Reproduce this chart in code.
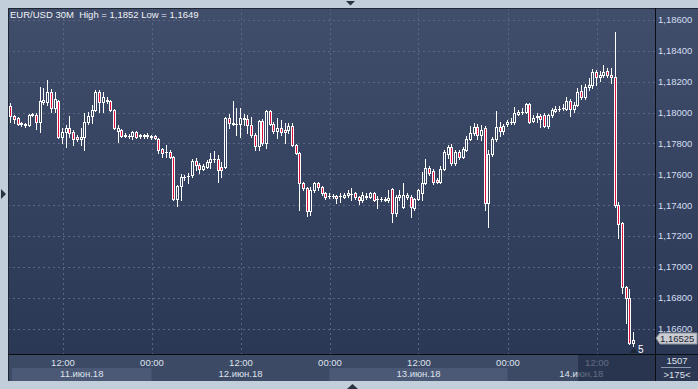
<!DOCTYPE html>
<html>
<head>
<meta charset="utf-8">
<script src="https://cdn.jsdelivr.net/npm/d3@7"></script>
<style>
    body { margin: 0; background: #c3cedb; }
    svg { display: block; font-family: "Liberation Sans", Arial, sans-serif; }
</style>
</head>
<body>
<div id="chart"></div>
<script>
// EUR/USD 30M bars, 11.06.2018 04:30 .. 14.06.2018 17:00 (UTC)
var barOpen = [
    1.17972, 1.18043, 1.17978, 1.17965, 1.17933, 1.17926, 1.17920, 1.17985, 1.17985, 1.17939,
    1.18069, 1.18069, 1.18134, 1.18030, 1.18076, 1.17842, 1.17875, 1.17901, 1.17875, 1.17842,
    1.17829, 1.17842, 1.17939, 1.17978, 1.18017, 1.18134, 1.18069, 1.18082, 1.18076, 1.18017,
    1.17881, 1.17888, 1.17855, 1.17849, 1.17849, 1.17875, 1.17849, 1.17852, 1.17849, 1.17846,
    1.17849, 1.17829, 1.17765, 1.17745, 1.17745, 1.17713, 1.17441, 1.17525, 1.17583, 1.17590,
    1.17596, 1.17687, 1.17661, 1.17635, 1.17648, 1.17680, 1.17700, 1.17700, 1.17648, 1.17648,
    1.17965, 1.17933, 1.17926, 1.17926, 1.17959, 1.17959, 1.17920, 1.17855, 1.17784, 1.17946,
    1.17804, 1.18011, 1.17926, 1.17881, 1.17901, 1.17888, 1.17888, 1.17913, 1.17791, 1.17739,
    1.17544, 1.17512, 1.17363, 1.17499, 1.17544, 1.17518, 1.17479, 1.17460, 1.17457, 1.17460,
    1.17457, 1.17453, 1.17466, 1.17473, 1.17479, 1.17453, 1.17434, 1.17453, 1.17453, 1.17479,
    1.17441, 1.17438, 1.17441, 1.17434, 1.17505, 1.17350, 1.17453, 1.17389, 1.17453, 1.17453,
    1.17382, 1.17441, 1.17479, 1.17544, 1.17641, 1.17622, 1.17564, 1.17551, 1.17635, 1.17732,
    1.17778, 1.17674, 1.17745, 1.17713, 1.17758, 1.17829, 1.17868, 1.17907, 1.17855, 1.17901,
    1.17415, 1.17732, 1.17829, 1.17907, 1.17881, 1.17926, 1.17939, 1.17939, 1.17991, 1.18004,
    1.18004, 1.18056, 1.17946, 1.17972, 1.17978, 1.17985, 1.17913, 1.17985, 1.18011, 1.18024,
    1.18030, 1.18024, 1.18076, 1.18024, 1.18050, 1.18140, 1.18102, 1.18166, 1.18179, 1.18263,
    1.18231, 1.18244, 1.18270, 1.18244, 1.18231, 1.17402, 1.17285, 1.16870, 1.16799, 1.16510
];
var barHigh = [
    1.18056, 1.18063, 1.17985, 1.17972, 1.17939, 1.17933, 1.17991, 1.17998, 1.17998, 1.18166,
    1.18160, 1.18212, 1.18153, 1.18134, 1.18082, 1.17901, 1.17920, 1.17978, 1.17888, 1.17855,
    1.17901, 1.17998, 1.18004, 1.18050, 1.18147, 1.18147, 1.18134, 1.18102, 1.18082, 1.18024,
    1.17920, 1.17894, 1.17868, 1.17862, 1.17881, 1.17881, 1.17862, 1.17862, 1.17868, 1.17855,
    1.17855, 1.17836, 1.17771, 1.17791, 1.17758, 1.17719, 1.17531, 1.17603, 1.17596, 1.17609,
    1.17700, 1.17706, 1.17674, 1.17667, 1.17693, 1.17739, 1.17752, 1.17726, 1.17680, 1.17972,
    1.17991, 1.18076, 1.18030, 1.18030, 1.17991, 1.17985, 1.17972, 1.17868, 1.17952, 1.17959,
    1.18017, 1.18017, 1.17939, 1.17965, 1.17952, 1.17933, 1.17933, 1.17933, 1.17797, 1.17745,
    1.17551, 1.17518, 1.17518, 1.17551, 1.17551, 1.17525, 1.17486, 1.17479, 1.17473, 1.17466,
    1.17479, 1.17479, 1.17499, 1.17512, 1.17486, 1.17460, 1.17486, 1.17479, 1.17486, 1.17486,
    1.17460, 1.17453, 1.17453, 1.17499, 1.17512, 1.17466, 1.17499, 1.17544, 1.17479, 1.17466,
    1.17447, 1.17505, 1.17616, 1.17700, 1.17654, 1.17635, 1.17577, 1.17654, 1.17758, 1.17791,
    1.17797, 1.17758, 1.17758, 1.17778, 1.17849, 1.17913, 1.17933, 1.17926, 1.17920, 1.17913,
    1.17758, 1.17842, 1.18011, 1.17939, 1.17926, 1.17952, 1.17965, 1.18037, 1.18017, 1.18030,
    1.18063, 1.18063, 1.17985, 1.17998, 1.17991, 1.17998, 1.17991, 1.18030, 1.18043, 1.18043,
    1.18056, 1.18102, 1.18089, 1.18069, 1.18160, 1.18179, 1.18186, 1.18225, 1.18283, 1.18276,
    1.18270, 1.18309, 1.18289, 1.18289, 1.18520, 1.17421, 1.17291, 1.16877, 1.16857, 1.16578
];
var barLow = [
    1.17965, 1.17939, 1.17933, 1.17920, 1.17913, 1.17907, 1.17913, 1.17978, 1.17894, 1.17875,
    1.18056, 1.18050, 1.18004, 1.18004, 1.17836, 1.17804, 1.17778, 1.17842, 1.17791, 1.17816,
    1.17791, 1.17758, 1.17926, 1.17933, 1.18011, 1.18004, 1.18004, 1.18063, 1.18011, 1.17894,
    1.17810, 1.17842, 1.17842, 1.17836, 1.17829, 1.17836, 1.17836, 1.17836, 1.17836, 1.17829,
    1.17829, 1.17739, 1.17713, 1.17713, 1.17706, 1.17434, 1.17395, 1.17434, 1.17564, 1.17544,
    1.17583, 1.17628, 1.17609, 1.17628, 1.17641, 1.17641, 1.17680, 1.17551, 1.17583, 1.17641,
    1.17901, 1.17920, 1.17855, 1.17842, 1.17920, 1.17868, 1.17842, 1.17758, 1.17758, 1.17791,
    1.17771, 1.17920, 1.17868, 1.17836, 1.17855, 1.17804, 1.17868, 1.17784, 1.17732, 1.17369,
    1.17499, 1.17330, 1.17337, 1.17486, 1.17499, 1.17466, 1.17441, 1.17447, 1.17447, 1.17415,
    1.17421, 1.17447, 1.17453, 1.17434, 1.17441, 1.17408, 1.17421, 1.17441, 1.17447, 1.17428,
    1.17382, 1.17428, 1.17428, 1.17421, 1.17291, 1.17330, 1.17434, 1.17382, 1.17441, 1.17324,
    1.17369, 1.17434, 1.17434, 1.17538, 1.17596, 1.17538, 1.17544, 1.17544, 1.17628, 1.17706,
    1.17661, 1.17661, 1.17700, 1.17706, 1.17752, 1.17823, 1.17855, 1.17829, 1.17823, 1.17369,
    1.17259, 1.17719, 1.17816, 1.17849, 1.17862, 1.17913, 1.17926, 1.17926, 1.17985, 1.17991,
    1.17998, 1.17933, 1.17939, 1.17939, 1.17907, 1.17907, 1.17901, 1.17972, 1.18004, 1.18011,
    1.18017, 1.18017, 1.17978, 1.18004, 1.18043, 1.18089, 1.18089, 1.18147, 1.18160, 1.18179,
    1.18205, 1.18231, 1.18231, 1.18192, 1.17389, 1.17188, 1.16831, 1.16636, 1.16501, 1.16490
];
var barClose = [
    1.18043, 1.17978, 1.17959, 1.17926, 1.17926, 1.17920, 1.17985, 1.17991, 1.17939, 1.18076,
    1.18082, 1.18134, 1.18030, 1.18089, 1.17842, 1.17875, 1.17901, 1.17868, 1.17829, 1.17829,
    1.17842, 1.17939, 1.17978, 1.18017, 1.18134, 1.18069, 1.18102, 1.18076, 1.18017, 1.17901,
    1.17901, 1.17849, 1.17849, 1.17846, 1.17875, 1.17842, 1.17852, 1.17849, 1.17852, 1.17842,
    1.17836, 1.17758, 1.17739, 1.17742, 1.17713, 1.17441, 1.17525, 1.17583, 1.17580, 1.17587,
    1.17687, 1.17661, 1.17635, 1.17654, 1.17680, 1.17700, 1.17697, 1.17628, 1.17628, 1.17965,
    1.17933, 1.17926, 1.17923, 1.17965, 1.17962, 1.17920, 1.17855, 1.17784, 1.17946, 1.17804,
    1.18011, 1.17926, 1.17881, 1.17901, 1.17875, 1.17875, 1.17913, 1.17791, 1.17739, 1.17544,
    1.17512, 1.17363, 1.17499, 1.17544, 1.17518, 1.17479, 1.17453, 1.17457, 1.17460, 1.17447,
    1.17460, 1.17466, 1.17479, 1.17470, 1.17453, 1.17434, 1.17466, 1.17457, 1.17479, 1.17434,
    1.17438, 1.17441, 1.17434, 1.17447, 1.17350, 1.17453, 1.17466, 1.17466, 1.17466, 1.17389,
    1.17441, 1.17499, 1.17544, 1.17641, 1.17609, 1.17551, 1.17551, 1.17635, 1.17745, 1.17778,
    1.17674, 1.17745, 1.17713, 1.17765, 1.17829, 1.17868, 1.17907, 1.17855, 1.17888, 1.17415,
    1.17732, 1.17829, 1.17907, 1.17881, 1.17913, 1.17939, 1.17942, 1.17998, 1.18004, 1.18001,
    1.18056, 1.17939, 1.17965, 1.17975, 1.17959, 1.17913, 1.17985, 1.18017, 1.18024, 1.18021,
    1.18033, 1.18076, 1.18024, 1.18050, 1.18134, 1.18102, 1.18166, 1.18179, 1.18263, 1.18231,
    1.18244, 1.18263, 1.18244, 1.18231, 1.17402, 1.17278, 1.16870, 1.16799, 1.16510, 1.16525
];

var firstBarTime = Date.UTC(2018, 5, 11, 4, 30);
var barMinutes = 30;
var priceTicks = [1.166, 1.168, 1.170, 1.172, 1.174, 1.176, 1.178, 1.180, 1.182, 1.184, 1.186];
var gridTimes = [
    Date.UTC(2018, 5, 11, 12), Date.UTC(2018, 5, 12, 0), Date.UTC(2018, 5, 12, 12),
    Date.UTC(2018, 5, 13, 0), Date.UTC(2018, 5, 13, 12), Date.UTC(2018, 5, 14, 0),
    Date.UTC(2018, 5, 14, 12)
];
var dayStarts = [Date.UTC(2018, 5, 11), Date.UTC(2018, 5, 12), Date.UTC(2018, 5, 13), Date.UTC(2018, 5, 14), Date.UTC(2018, 5, 15)];
var dayLabels = ["11.июн.18", "12.июн.18", "13.июн.18", "14.июн.18"];
var titleText = "EUR/USD 30M  High = 1,1852 Low = 1,1649";
var lastPrice = 1.16525;
var barsTotal = "1507";
var barsVisible = ">175<";
var lastVolume = "5";

var width = 698, height = 389;
var plot = { left: 8, top: 8, right: 655, bottom: 354 };
var axisBottom = 381;

var bars = barOpen.map((o, i) => ({
    t: new Date(firstBarTime + i * barMinutes * 60000),
    o: o,
    h: barHigh[i],
    l: barLow[i],
    c: barClose[i],
}));

var svg = d3
    .select("#chart")
    .append("svg")
    .attr("width", width)
    .attr("height", height);

var defs = svg.append("defs");
var grad = defs
    .append("linearGradient")
    .attr("id", "bg")
    .attr("x1", 0).attr("y1", 0)
    .attr("x2", 0).attr("y2", 1);
grad.append("stop").attr("offset", "0%").attr("stop-color", "#414e6b");
grad.append("stop").attr("offset", "100%").attr("stop-color", "#2b3855");
defs.append("clipPath")
    .attr("id", "plotClip")
    .append("rect")
    .attr("x", plot.left + 1)
    .attr("y", plot.top + 1)
    .attr("width", plot.right - plot.left - 1)
    .attr("height", plot.bottom - plot.top - 1);

var x = d3
    .scaleUtc()
    .domain([gridTimes[0], gridTimes[gridTimes.length - 1]])
    .range([62.5, 596.5]);

var y = d3
    .scaleLinear()
    .domain([1.166, 1.186])
    .range([328.7, 20]);

// frame and panels
svg.append("rect").attr("width", width).attr("height", height).attr("fill", "#c3cedb");
svg.append("rect")
    .attr("x", plot.left).attr("y", plot.top)
    .attr("width", width - plot.left).attr("height", plot.bottom - plot.top)
    .attr("fill", "url(#bg)");
svg.append("rect")
    .attr("x", plot.left).attr("y", plot.bottom)
    .attr("width", plot.right - plot.left).attr("height", axisBottom - plot.bottom)
    .attr("fill", "#3d4a66");
svg.append("rect")
    .attr("x", plot.right).attr("y", plot.bottom)
    .attr("width", width - plot.right).attr("height", axisBottom - plot.bottom)
    .attr("fill", "#2c3853");

// alternating day bands
svg.append("g")
    .selectAll("rect")
    .data(dayLabels)
    .enter()
    .append("rect")
    .attr("x", (d, i) => Math.max(12, x(dayStarts[i])))
    .attr("y", 368)
    .attr("width", (d, i) => Math.min(plot.right, x(dayStarts[i + 1])) - Math.max(12, x(dayStarts[i])))
    .attr("height", axisBottom - 368)
    .attr("fill", (d, i) => (i % 2 === 0 ? "#4b5977" : "none"));

// grid
var grid = svg.append("g").attr("clip-path", "url(#plotClip)")
    .attr("stroke", "#5b6781")
    .attr("stroke-dasharray", "2,3")
    .attr("stroke-width", 1);
grid.selectAll(".hgrid")
    .data(priceTicks)
    .enter()
    .append("line")
    .attr("x1", plot.left)
    .attr("x2", plot.right)
    .attr("y1", (d) => Math.round(y(d)) + 0.5)
    .attr("y2", (d) => Math.round(y(d)) + 0.5);
grid.selectAll(".vgrid")
    .data(gridTimes)
    .enter()
    .append("line")
    .attr("y1", plot.top)
    .attr("y2", plot.bottom)
    .attr("x1", (d) => Math.round(x(d)) + 0.5)
    .attr("x2", (d) => Math.round(x(d)) + 0.5);

// candles
var candles = svg.append("g").attr("clip-path", "url(#plotClip)");
bars.forEach((d) => {
    var px = Math.floor(x(d.t));
    var yt = Math.round(y(Math.max(d.o, d.c)));
    var yb = Math.round(y(Math.min(d.o, d.c)));
    var yh = Math.round(y(d.h));
    var yl = Math.round(y(d.l));
    var g = candles.append("g");
    g.append("line")
        .attr("x1", px + 0.5).attr("x2", px + 0.5)
        .attr("y1", yh).attr("y2", yt)
        .attr("stroke", "#ffffff");
    g.append("line")
        .attr("x1", px + 0.5).attr("x2", px + 0.5)
        .attr("y1", yb + 1).attr("y2", yl + 1)
        .attr("stroke", "#ffffff");
    if (yb - yt < 1) {
        g.append("line")
            .attr("x1", px - 1).attr("x2", px + 2)
            .attr("y1", yt + 0.5).attr("y2", yt + 0.5)
            .attr("stroke", "#ffffff");
    } else {
        g.append("rect")
            .attr("x", px - 0.5)
            .attr("y", yt + 0.5)
            .attr("width", 2)
            .attr("height", yb - yt)
            .attr("fill", d.c < d.o ? "#e3103f" : "#34415d")
            .attr("stroke", "#ffffff")
            .attr("stroke-width", 1);
    }
});

// borders
svg.append("path")
    .attr("d", "M" + (plot.left + 0.5) + "," + axisBottom + "V" + (plot.top + 0.5) + "H" + width)
    .attr("fill", "none")
    .attr("stroke", "#1e2533");
svg.append("path")
    .attr("d", "M" + (plot.right + 0.5) + "," + plot.top + "V" + axisBottom
        + "M" + plot.left + "," + (plot.bottom + 0.5) + "H" + width)
    .attr("fill", "none")
    .attr("stroke", "#0a0d14");

// price axis labels
svg.append("g")
    .selectAll("text")
    .data(priceTicks)
    .enter()
    .append("text")
    .attr("x", 658)
    .attr("y", (d) => y(d))
    .attr("dy", "0.35em")
    .attr("font-size", "9.5px")
    .attr("fill", "#d3def2")
    .text((d) => d3.format(".5f")(d).replace(".", ","));

svg.append("text")
    .attr("x", 10)
    .attr("y", 18)
    .attr("font-size", "9.5px")
    .attr("fill", "#eef1f6")
    .attr("xml:space", "preserve")
    .text(titleText);

// last price marker
var ly = Math.round(y(lastPrice)) - 2;
svg.append("path")
    .attr("d", "M656," + ly + "L660," + (ly - 5) + "H697V" + (ly + 6) + "H660Z")
    .attr("fill", "#c9ccd1")
    .attr("stroke", "#8e939c");
svg.append("text")
    .attr("x", 660)
    .attr("y", ly + 0.5)
    .attr("dy", "0.35em")
    .attr("font-size", "9.5px")
    .attr("fill", "#1b2232")
    .text(d3.format(".5f")(lastPrice).replace(".", ","));

var lastX = Math.floor(x(bars[bars.length - 1].t));
svg.append("path")
    .attr("d", "M" + (lastX - 4) + ",353L" + (lastX + 0.5) + ",348L" + (lastX + 5) + ",353Z")
    .attr("fill", "#1f283a");
svg.append("text")
    .attr("x", lastX + 5)
    .attr("y", 349)
    .attr("dy", "0.35em")
    .attr("font-size", "10px")
    .attr("fill", "#ffffff")
    .text(lastVolume);

// time axis
svg.append("g")
    .selectAll("text")
    .data(gridTimes)
    .enter()
    .append("text")
    .attr("x", (d) => x(d) + 0.5)
    .attr("y", 362.5)
    .attr("dy", "0.35em")
    .attr("text-anchor", "middle")
    .attr("font-size", "9.5px")
    .attr("fill", "#dde3ec")
    .text((d) => d3.utcFormat("%H:%M")(d));

svg.append("g")
    .selectAll("text")
    .data(dayLabels)
    .enter()
    .append("text")
    .attr("x", (d, i) => (Math.max(12, x(dayStarts[i])) + Math.min(plot.right, x(dayStarts[i + 1]))) / 2)
    .attr("y", 374)
    .attr("dy", "0.35em")
    .attr("text-anchor", "middle")
    .attr("font-size", "9.5px")
    .attr("fill", "#dde3ec")
    .text((d) => d);

// scroll window shade on the time axis
svg.append("rect")
    .attr("x", 578)
    .attr("y", plot.bottom + 1)
    .attr("width", plot.right - 578)
    .attr("height", axisBottom - plot.bottom - 1)
    .attr("fill", "#1f2a44")
    .attr("opacity", 0.65);

// bar counter box
svg.append("text")
    .attr("x", 677).attr("y", 361).attr("dy", "0.35em")
    .attr("text-anchor", "middle").attr("font-size", "9.5px").attr("fill", "#dde3ec")
    .text(barsTotal);
svg.append("line")
    .attr("x1", 661).attr("x2", 691).attr("y1", 367.5).attr("y2", 367.5)
    .attr("stroke", "#8e99ad");
svg.append("text")
    .attr("x", 677).attr("y", 374.5).attr("dy", "0.35em")
    .attr("text-anchor", "middle").attr("font-size", "9.5px").attr("fill", "#dde3ec")
    .text(barsVisible);

// frame arrows
svg.append("path").attr("d", "M346,1H355L350.5,5.5Z").attr("fill", "#2a3140");
svg.append("path").attr("d", "M347,389L352.5,384L358,389Z").attr("fill", "#2a3140");
svg.append("path").attr("d", "M1,189V199L6,194Z").attr("fill", "#2a3140");
</script>
</body>
</html>
